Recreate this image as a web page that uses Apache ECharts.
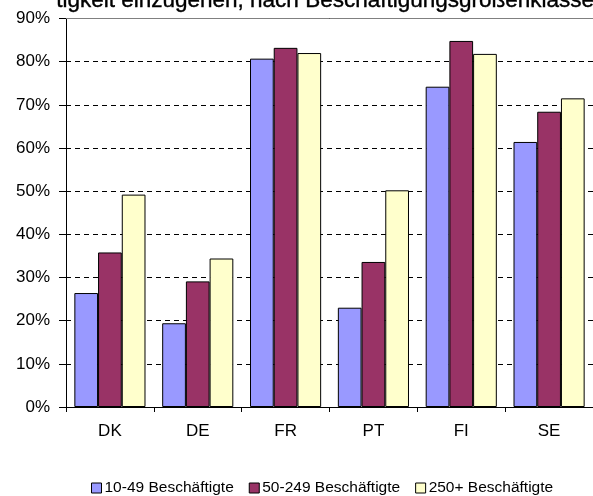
<!DOCTYPE html>
<html>
<head>
<meta charset="utf-8">
<script src="https://cdn.jsdelivr.net/npm/echarts@6/dist/echarts.min.js"></script>
<style>
html,body{margin:0;padding:0;background:#fff;}
#chart{width:593px;height:496px;}
</style>
</head>
<body>
<div id="chart"></div>
<script>
var titleText = 'tigkeit einzugehen, nach Beschäftigungsgrößenklassen';
var categories = ['DK', 'DE', 'FR', 'PT', 'FI', 'SE'];
var seriesNames = ['10-49 Beschäftigte', '50-249 Beschäftigte', '250+ Beschäftigte'];
var small = [26.4, 19.4, 80.7, 23.0, 74.2, 61.4];
var medium = [35.8, 29.1, 83.2, 33.6, 84.8, 68.4];
var large = [49.2, 34.4, 82.0, 50.2, 81.8, 71.5];
var yTicks = [0, 10, 20, 30, 40, 50, 60, 70, 80, 90];

var colors = ['#9999FF', '#993366', '#FFFFCC'];
var dataSets = [small, medium, large];
var font = '"Liberation Sans", Arial, sans-serif';

var chart = echarts.init(document.getElementById('chart'), null, {renderer: 'canvas'});
var series = dataSets.map(function (d, i) {
  var s = {
    name: seriesNames[i],
    type: 'bar',
    data: d,
    barGap: '0%',
    barCategoryGap: '19%',
    itemStyle: {color: colors[i], borderColor: '#000', borderWidth: 1},
    emphasis: {disabled: true},
    animation: false
  };
  if (i === 0) {
    s.markLine = {
      silent: true,
      symbol: 'none',
      label: {show: false},
      lineStyle: {color: '#808080', type: 'solid', width: 1},
      data: [{yAxis: yTicks[yTicks.length - 1]}],
      animation: false
    };
  }
  return s;
});

chart.setOption({
  animation: false,
  backgroundColor: '#fff',
  grid: {left: 66, right: -4, top: 18.5, bottom: 89, containLabel: false},
  graphic: [{
    type: 'text',
    left: 56,
    top: -11,
    style: {
      text: titleText,
      font: '22.5px ' + font,
      fill: '#000',
      stroke: '#000',
      lineWidth: 0.4
    }
  }],
  legend: {
    top: 475,
    left: 86,
    itemWidth: 10,
    itemHeight: 10,
    itemGap: 15,
    icon: 'rect',
    textStyle: {fontFamily: font, fontSize: 15.5, color: '#000', padding: [0, 0, 0, -2]},
    itemStyle: {borderColor: '#000', borderWidth: 1},
    data: seriesNames
  },
  xAxis: {
    type: 'category',
    data: categories,
    axisLine: {lineStyle: {color: '#000', width: 1}},
    axisTick: {show: true, length: 5, lineStyle: {color: '#000'}},
    axisLabel: {fontFamily: font, fontSize: 17, color: '#000', margin: 16}
  },
  yAxis: {
    type: 'value',
    min: yTicks[0],
    max: yTicks[yTicks.length - 1],
    interval: 10,
    axisLine: {show: true, lineStyle: {color: '#000', width: 1}},
    axisTick: {show: true, length: 7, lineStyle: {color: '#000'}},
    axisLabel: {fontFamily: font, fontSize: 17, color: '#000', margin: 16, formatter: '{value}%'},
    splitLine: {show: true, lineStyle: {color: '#000', type: [5, 4], width: 1}}
  },
  series: series
});
</script>
</body>
</html>
